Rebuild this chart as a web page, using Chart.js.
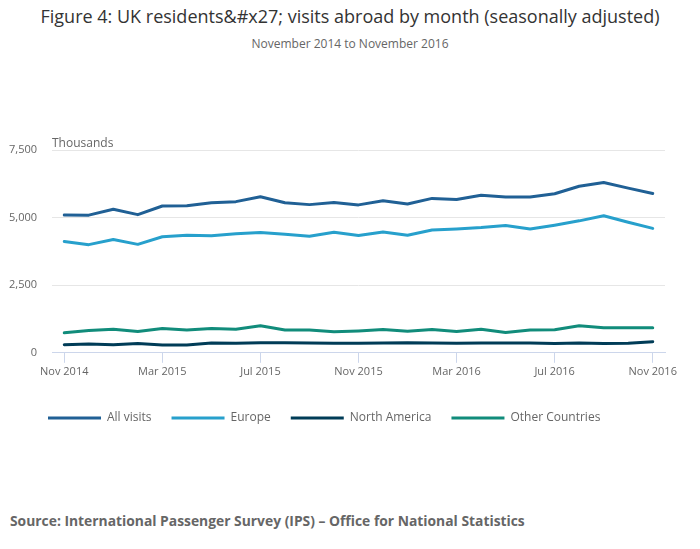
<!DOCTYPE html>
<html>
<head>
<meta charset="utf-8">
<script src="https://cdn.jsdelivr.net/npm/chart.js@4"></script>
<style>
  body { margin: 0; background: #fff; font-family: "Open Sans", sans-serif; }
  #wrap { position: relative; width: 700px; height: 549px; }
  #title { position: absolute; top: 4px; left: 0; width: 700px; text-align: center; font-size: 18px; color: #333; }
  #subtitle { position: absolute; top: 35px; left: 0; width: 700px; text-align: center; font-size: 12px; color: #666; }
  #box { position: absolute; top: 60px; left: 0; width: 700px; height: 374px; }
  #source { position: absolute; top: 511px; left: 10px; font-size: 13.85px; font-weight: bold; color: #666; }
</style>
</head>
<body>
<div id="wrap">
  <div id="title">Figure 4: UK residents&amp;#x27; visits abroad by month (seasonally adjusted)</div>
  <div id="subtitle">November 2014 to November 2016</div>
  <div id="box"><canvas id="myChart"></canvas></div>
  <div id="source">Source: International Passenger Survey (IPS) – Office for National Statistics</div>
</div>
<script>
const months = ["Nov 2014","Dec 2014","Jan 2015","Feb 2015","Mar 2015","Apr 2015","May 2015","Jun 2015",
  "Jul 2015","Aug 2015","Sep 2015","Oct 2015","Nov 2015","Dec 2015","Jan 2016","Feb 2016","Mar 2016",
  "Apr 2016","May 2016","Jun 2016","Jul 2016","Aug 2016","Sep 2016","Oct 2016","Nov 2016"];

const allVisits = [5100,5090,5310,5110,5430,5440,5550,5590,5770,5550,5480,5560,5470,5620,5500,5710,
  5670,5830,5760,5760,5880,6160,6300,6090,5890];
const europe = [4120,4000,4190,4010,4290,4350,4330,4400,4450,4380,4310,4460,4340,4470,4350,4540,
  4580,4630,4710,4580,4720,4880,5070,4830,4600];
const northAmerica = [300,325,300,340,290,290,360,350,375,375,360,350,350,360,375,360,
  350,360,360,360,340,360,340,350,410];
const otherCountries = [740,825,875,790,900,840,900,875,1000,840,840,775,810,860,800,860,
  790,875,750,840,850,1000,925,925,925];

const yTicks = [0, 2500, 5000, 7500];

const canvas = document.getElementById("myChart");
const ctx = canvas.getContext('2d');
const legendPad = 20;

// "Thousands" unit label above the plot, and nudge the legend to its place
const extras = {
  id: 'extras',
  afterLayout(chart) {
    chart.legend.left = 48 - legendPad;
  },
  afterDraw(chart) {
    const c = chart.ctx;
    c.save();
    c.font = '12px "Open Sans"';
    c.fillStyle = '#666';
    c.textAlign = 'left';
    c.textBaseline = 'bottom';
    c.fillText('Thousands', chart.chartArea.left, chart.chartArea.top);
    c.restore();
  }
};

function line(label, data, color) {
  return {label: label, data: data, borderColor: color, backgroundColor: color,
    borderWidth: 3, borderCapStyle: 'round', borderJoinStyle: 'round',
    pointRadius: 0, tension: 0, fill: false};
}

const myChart = new Chart(ctx, {
  type: 'line',
  data: {
    labels: months,
    datasets: [
      line('All visits', allVisits, '#206095'),
      line('Europe', europe, '#27a0cc'),
      line('North America', northAmerica, '#003c57'),
      line('Other Countries', otherCountries, '#118c7b')
    ]
  },
  options: {
    responsive: true,
    maintainAspectRatio: false,
    animation: false,
    layout: {padding: {top: 90, left: 8, right: 35, bottom: 0}},
    plugins: {
      legend: {
        position: 'bottom',
        align: 'start',
        labels: {boxWidth: 53, boxHeight: 3, padding: legendPad, color: '#666',
          font: {family: '"Open Sans"', size: 12},
          // flat legend bars: fill only, no stroke
          generateLabels: chart => Chart.defaults.plugins.legend.labels.generateLabels(chart)
            .map(l => Object.assign(l, {lineWidth: 0, lineCap: 'butt'}))
        }
      },
      tooltip: {enabled: false}
    },
    scales: {
      x: {
        offset: true,
        grid: {drawOnChartArea: false, color: '#ccd6eb', tickLength: 10, offset: false},
        border: {color: '#ccd6eb'},
        ticks: {
          autoSkip: false, maxRotation: 0, color: '#666', padding: 2,
          font: {family: '"Open Sans"', size: 11},
          callback: (v, i) => i % 4 === 0 ? months[i] : null
        },
        afterFit: s => { s.height += 12; }
      },
      y: {
        min: 0, max: 7500,
        afterBuildTicks: s => { s.ticks = yTicks.map(v => ({value: v})); },
        grid: {color: '#e6e6e6', drawTicks: false},
        border: {display: false},
        ticks: {
          color: '#666', padding: 15,
          font: {family: '"Open Sans"', size: 11},
          callback: v => v.toLocaleString('en-GB')
        },
        afterFit: s => { s.width = 44; }
      }
    }
  },
  plugins: [extras]
});
</script>
</body>
</html>
